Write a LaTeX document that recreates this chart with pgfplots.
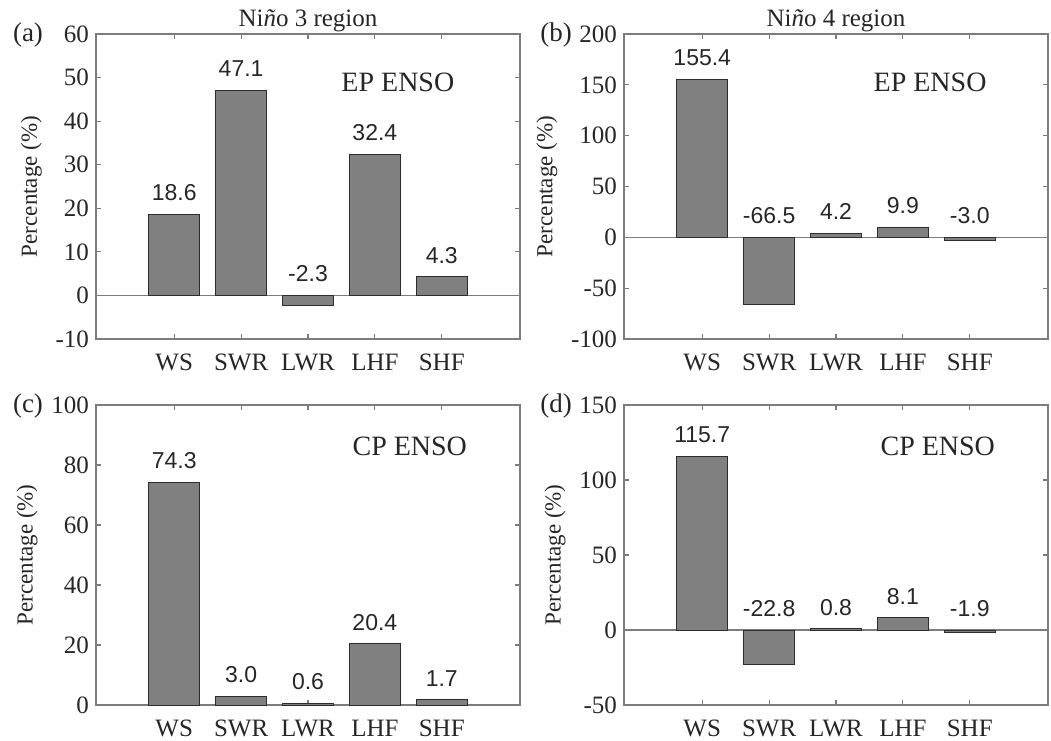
\documentclass[border=0pt]{standalone}
\usepackage{fontspec}
\setmainfont{Liberation Serif}
\newfontfamily\arial{Liberation Sans}
\usepackage{pgfplots}
\pgfplotsset{compat=1.18}
\usepackage{pgfplotstable}

\definecolor{barfill}{RGB}{128,128,128}
\definecolor{baredge}{RGB}{45,45,45}
\definecolor{axisgray}{RGB}{125,125,125}
\definecolor{labelblack}{RGB}{38,38,38}

% Contributions (%) of each process, by region and ENSO type
\pgfplotstableread{
x y
1 18.6
2 47.1
3 -2.3
4 32.4
5 4.3
}\epNinoThree
\pgfplotstableread{
x y
1 155.4
2 -66.5
3 4.2
4 9.9
5 -3.0
}\epNinoFour
\pgfplotstableread{
x y
1 74.3
2 3.0
3 0.6
4 20.4
5 1.7
}\cpNinoThree
\pgfplotstableread{
x y
1 115.7
2 -22.8
3 0.8
4 8.1
5 -1.9
}\cpNinoFour

\tikzset{
  tag/.style={font=\fontsize{13.5}{15}\selectfont, text=labelblack},
  enso/.style={font=\fontsize{14}{16}\selectfont, text=labelblack},
}

\pgfplotsset{
  panel/.style={
    scale only axis, width=212pt,
    anchor=north west,
    xmin=-0.17, xmax=6.17,
    xtick={1,2,3,4,5}, xticklabels={WS,SWR,LWR,LHF,SHF},
    tick align=inside, major tick length=2.5pt,
    axis line style={draw=axisgray, line width=0.6pt},
    every tick/.style={draw=axisgray, line width=0.6pt},
    tick label style={font=\fontsize{12.5}{14}\selectfont, text=labelblack},
    xticklabel style={yshift=-4pt},
    /pgf/number format/assume math mode=true,
    ylabel={Percentage (\%)},
    ylabel style={font=\fontsize{11.5}{13}\selectfont, text=labelblack},
    every axis title/.style={at={(0.5,1)}, anchor=south, inner sep=0pt,
      yshift=1pt, font=\fontsize{12.5}{14}\selectfont, text=labelblack},
    extra y ticks={0}, extra y tick labels={},
    extra y tick style={grid=major, major tick length=0pt,
      major grid style={draw=axisgray, line width=0.6pt}},
    clip=false,
  },
  bars/.style={ybar, bar width=0.76, bar shift=0pt,
    fill=barfill, draw=baredge, line width=0.5pt},
  vals/.style={draw=none, mark=none, point meta=explicit,
    nodes near coords={\pgfmathprintnumber[fixed,fixed zerofill,precision=1,assume math mode=true]{\pgfplotspointmeta}},
    every node near coord/.append style={font=\arial\fontsize{11.5}{13}\selectfont,
      text=labelblack, anchor=south, inner sep=0pt, yshift=6.5pt}},
}

\begin{document}
\begin{tikzpicture}
% (a) EP ENSO, Nino 3
\begin{axis}[panel, at={(48pt,-17pt)}, height=152.5pt,
  ymin=-10, ymax=60, ytick={-10,0,...,60},
  title={Ni\textit{\~n}o 3 region}]
  \addplot[bars] table[x=x, y=y] {\epNinoThree};
  \addplot[vals] table[x=x, y expr={max(\thisrow{y},0)}, meta=y] {\epNinoThree};
  \node[tag] at (rel axis cs:0,1) [xshift=-34pt, yshift=-0.5pt] {(a)};
  \node[enso] at (rel axis cs:0.712,0.843) {EP ENSO};
\end{axis}
% (b) EP ENSO, Nino 4
\begin{axis}[panel, at={(312pt,-17pt)}, height=152.5pt,
  ymin=-100, ymax=200, ytick={-100,-50,...,200},
  title={Ni\textit{\~n}o 4 region}]
  \addplot[bars] table[x=x, y=y] {\epNinoFour};
  \addplot[vals] table[x=x, y expr={max(\thisrow{y},0)}, meta=y] {\epNinoFour};
  \node[tag] at (rel axis cs:0,1) [xshift=-34pt, yshift=-0.5pt] {(b)};
  \node[enso] at (rel axis cs:0.722,0.843) {EP ENSO};
\end{axis}
% (c) CP ENSO, Nino 3
\begin{axis}[panel, at={(48pt,-202.5pt)}, height=150pt,
  ymin=0, ymax=100, ytick={0,20,...,100}]
  \addplot[bars] table[x=x, y=y] {\cpNinoThree};
  \addplot[vals] table[x=x, y expr={max(\thisrow{y},0)}, meta=y] {\cpNinoThree};
  \node[tag] at (rel axis cs:0,1) [xshift=-34pt, yshift=-0.5pt] {(c)};
  \node[enso] at (rel axis cs:0.74,0.863) {CP ENSO};
\end{axis}
% (d) CP ENSO, Nino 4
\begin{axis}[panel, at={(312pt,-202.5pt)}, height=150pt,
  ymin=-50, ymax=150, ytick={-50,0,...,150}]
  \addplot[bars] table[x=x, y=y] {\cpNinoFour};
  \addplot[vals] table[x=x, y expr={max(\thisrow{y},0)}, meta=y] {\cpNinoFour};
  \node[tag] at (rel axis cs:0,1) [xshift=-34pt, yshift=-0.5pt] {(d)};
  \node[enso] at (rel axis cs:0.74,0.863) {CP ENSO};
\end{axis}
\pgfresetboundingbox
\path[use as bounding box] (0,0) rectangle (525.5pt,-370pt);
\end{tikzpicture}
\end{document}
